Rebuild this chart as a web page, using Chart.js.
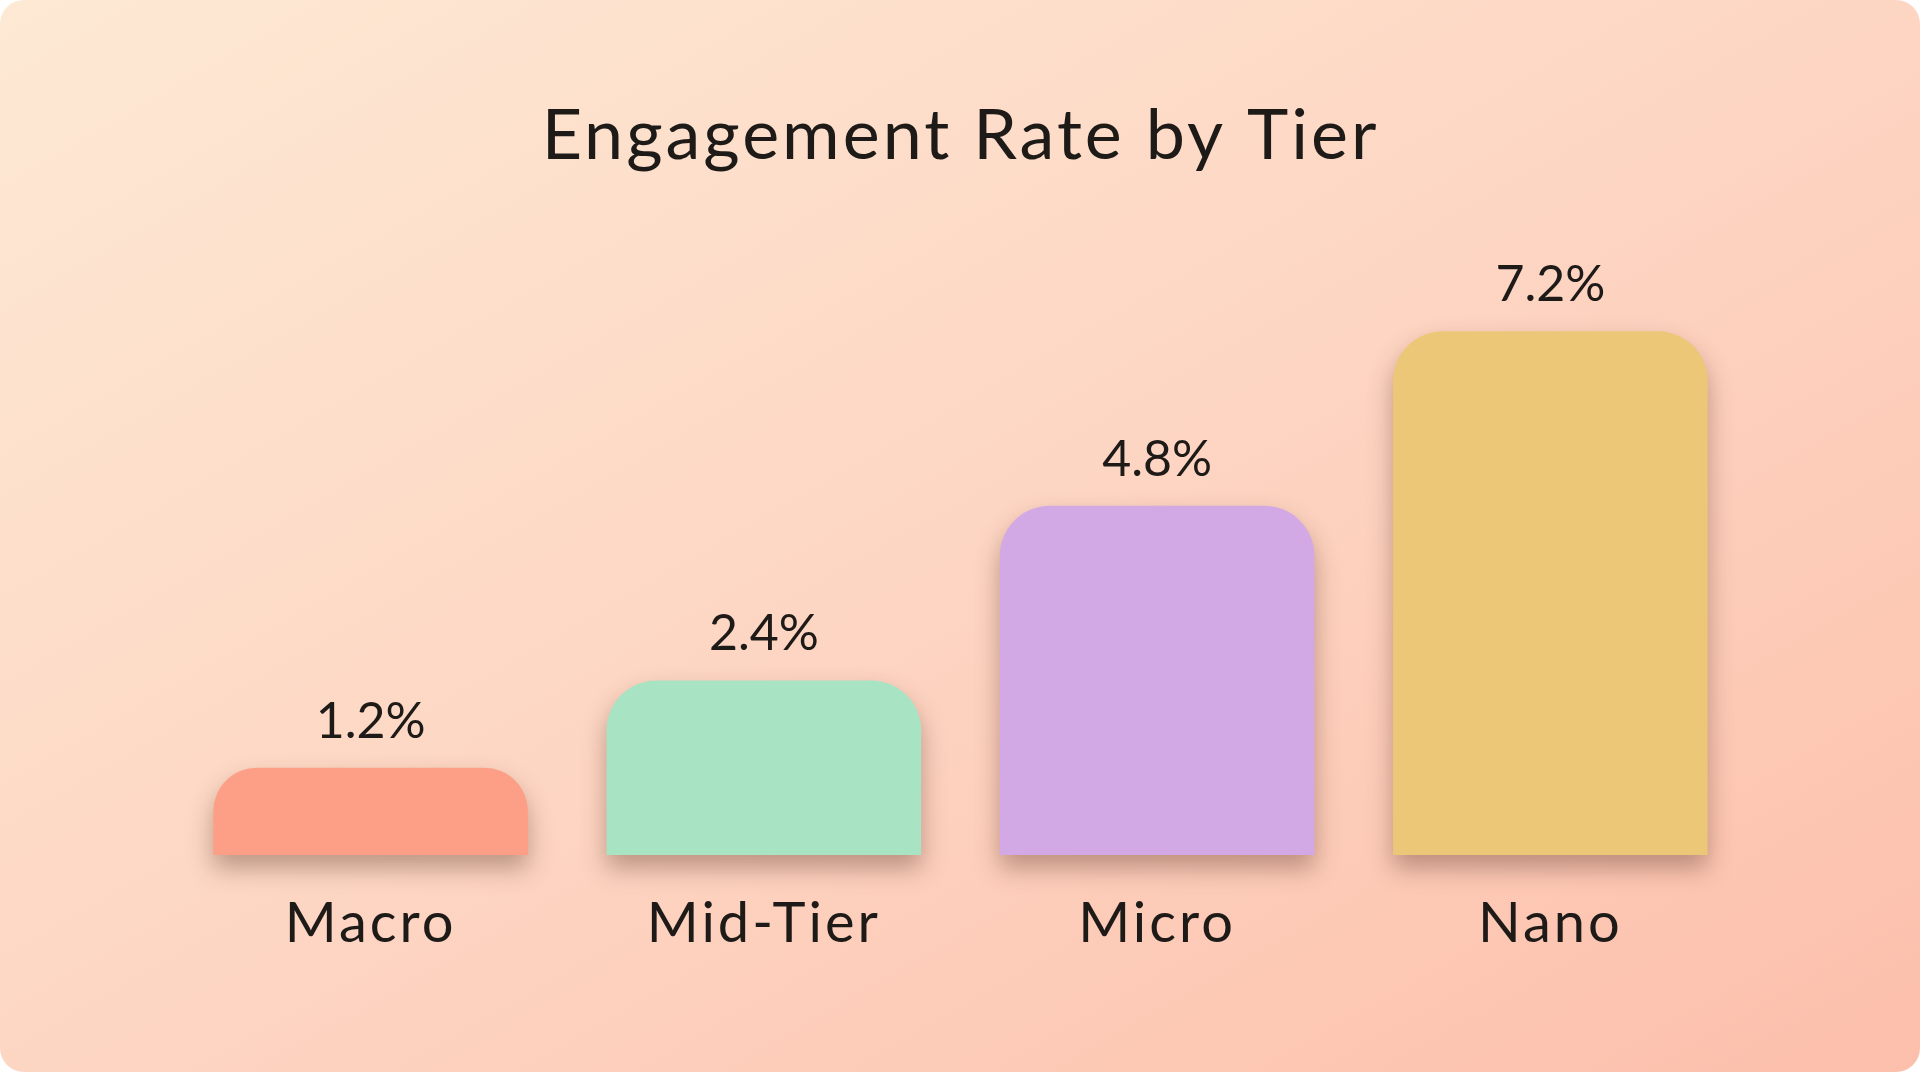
<!DOCTYPE html>
<html>
<head>
<meta charset="utf-8">
<script src="https://cdn.jsdelivr.net/npm/chart.js@4/dist/chart.umd.min.js"></script>
<style>
  html, body { margin: 0; padding: 0; background: #ffffff; }
  #card {
    position: absolute; left: 0; top: 0; width: 1920px; height: 1072px;
    border-radius: 24px; overflow: hidden;
    background: linear-gradient(150deg, #fde9d4 0%, #fdd6c3 50%, #fcbfab 100%);
  }
  canvas { display: block; }
</style>
</head>
<body>
<div id="card"><canvas id="c" width="1920" height="1072"></canvas></div>
<script>
const categories = ["Macro", "Mid-Tier", "Micro", "Nano"];
const engagementRate = [1.2, 2.4, 4.8, 7.2];
const valueLabels = ["1.2%", "2.4%", "4.8%", "7.2%"];
const barColors = ["#fd9e86", "#a8e3c3", "#d3a9e5", "#ebc777"];
const chartTitle = "Engagement Rate by Tier";

const FONT = "Lato, 'Open Sans', sans-serif";
const TEXT = "#1e1a18";

const spacingPlugin = {
  id: 'letterSpacing',
  beforeDraw(chart) { chart.ctx.letterSpacing = '3px'; },
  afterDraw(chart) { chart.ctx.letterSpacing = '0px'; }
};

const shadowPlugin = {
  id: 'barShadow',
  beforeDatasetsDraw(chart) {
    const ctx = chart.ctx;
    ctx.save();
    ctx.shadowColor = 'rgba(100, 60, 45, 0.42)';
    ctx.shadowBlur = 24;
    ctx.shadowOffsetX = 0;
    ctx.shadowOffsetY = 13;
  },
  afterDatasetsDraw(chart) {
    chart.ctx.restore();
  }
};

const valueLabelPlugin = {
  id: 'valueLabels',
  afterDatasetsDraw(chart) {
    const ctx = chart.ctx;
    const meta = chart.getDatasetMeta(0);
    ctx.save();
    ctx.letterSpacing = '0px';
    ctx.font = "400 50px " + FONT;
    ctx.fillStyle = TEXT;
    ctx.textAlign = 'center';
    ctx.textBaseline = 'alphabetic';
    meta.data.forEach((bar, i) => {
      ctx.fillText(valueLabels[i], bar.x, bar.y - 30);
    });
    ctx.restore();
  }
};

new Chart(document.getElementById('c'), {
  type: 'bar',
  data: {
    labels: categories,
    datasets: [{
      data: engagementRate,
      backgroundColor: barColors,
      borderWidth: 0,
      borderRadius: { topLeft: 50, topRight: 50, bottomLeft: 0, bottomRight: 0 },
      borderSkipped: false,
      barPercentage: 0.8,
      categoryPercentage: 1.0,
      clip: false
    }]
  },
  options: {
    responsive: false,
    animation: false,
    devicePixelRatio: 1,
    layout: { padding: { left: 174, right: 173, top: 0, bottom: 0 } },
    plugins: {
      legend: { display: false },
      tooltip: { enabled: false },
      title: {
        display: true,
        text: chartTitle,
        color: TEXT,
        font: { family: FONT, size: 70, weight: '400', lineHeight: 1.2 },
        padding: { top: 94, bottom: 95 }
      }
    },
    scales: {
      x: {
        grid: { display: false },
        border: { display: false },
        ticks: {
          color: TEXT,
          font: { family: FONT, size: 56, weight: '400' },
          padding: 27
        },
        afterFit(scale) { scale.height = 1072 - 855; }
      },
      y: {
        display: false,
        min: 0,
        max: 8
      }
    }
  },
  plugins: [spacingPlugin, shadowPlugin, valueLabelPlugin]
});
</script>
</body>
</html>
